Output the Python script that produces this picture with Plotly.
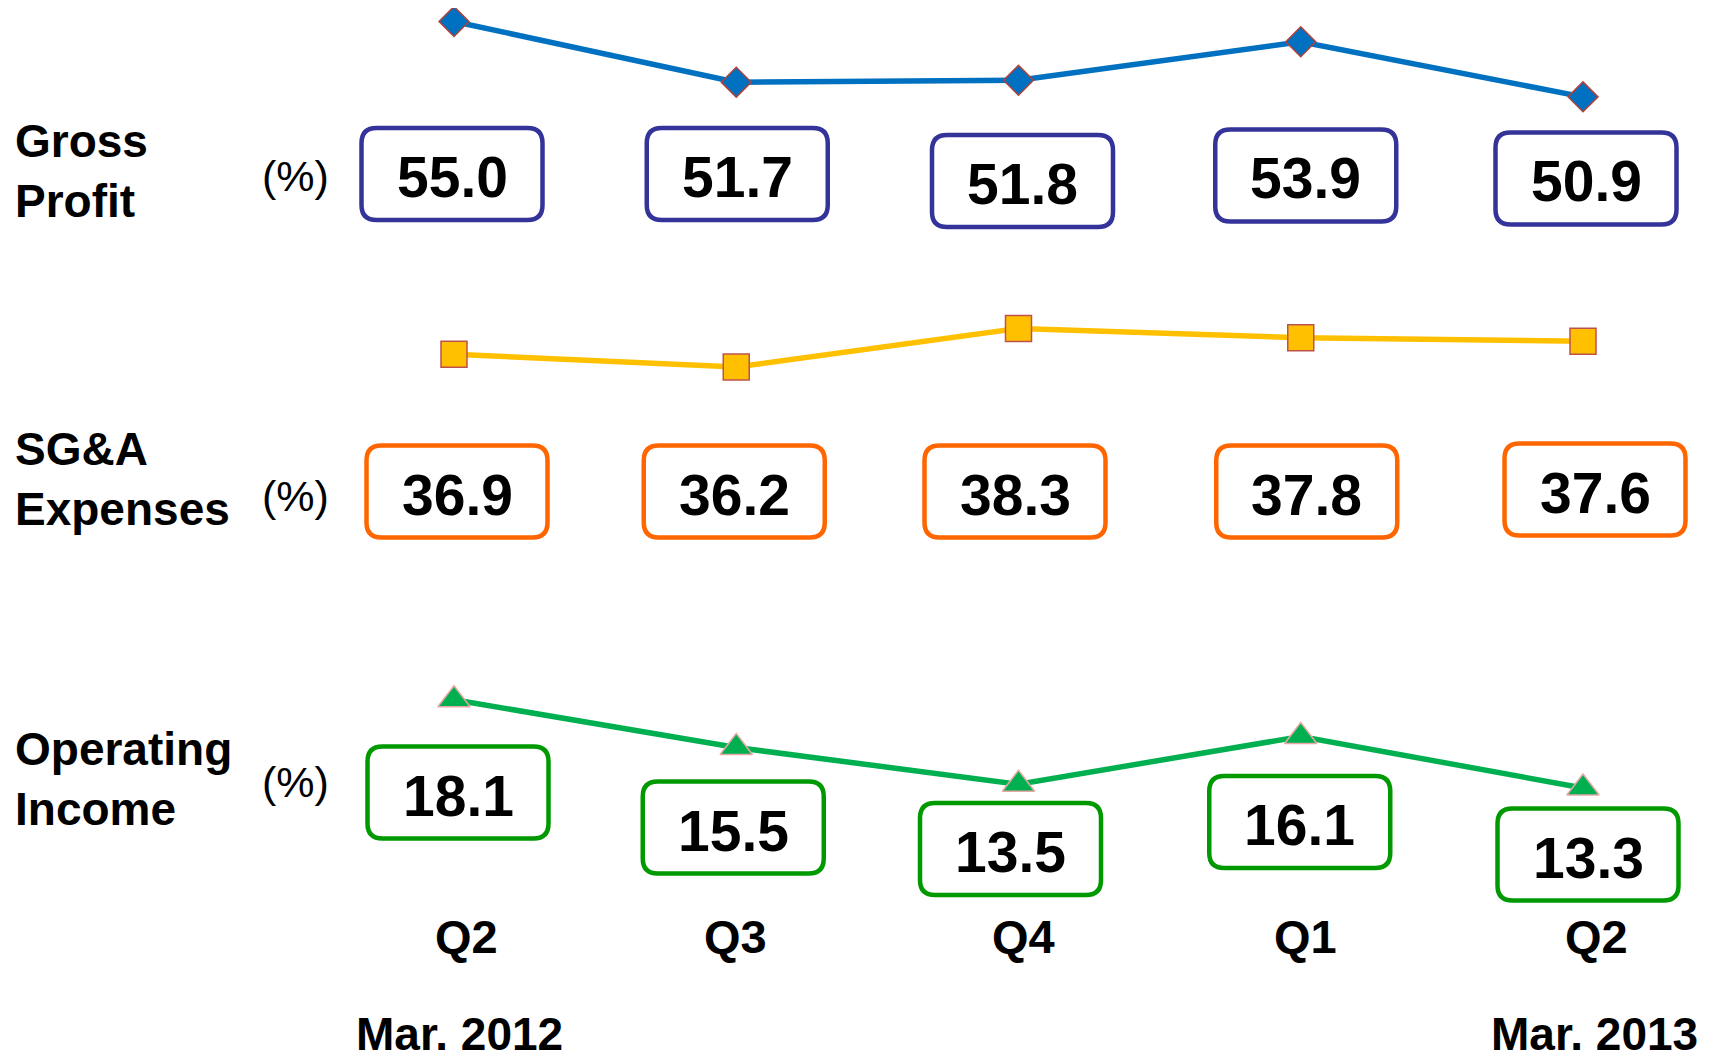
import plotly.graph_objects as go

# ---------------- data ----------------
quarters = ["Q2", "Q3", "Q4", "Q1", "Q2"]
fiscal_years = ["Mar. 2012", "Mar. 2013"]
gross_profit = [55.0, 51.7, 51.8, 53.9, 50.9]
sga_expenses = [36.9, 36.2, 38.3, 37.8, 37.6]
operating_income = [18.1, 15.5, 13.5, 16.1, 13.3]
metric_names = ["Gross<br>Profit", "SG&A<br>Expenses", "Operating<br>Income"]
unit_label = "(%)"

# ---------------- layout geometry (pixels, page body has an 8px margin) ----------------
OFF = 8
W, H = 1720 - OFF, 1062 - OFF
PLOT_BOTTOM = 900 - OFF
X_FIRST = 454.0 - OFF
X_STEP = 282.25
Y_PER_UNIT = 18.38
Y_REF_VAL, Y_REF_PX = 55.0, 21.5 - OFF

x0 = -X_FIRST / X_STEP
x1 = x0 + W / X_STEP
ymax = Y_REF_VAL + Y_REF_PX / Y_PER_UNIT
ymin = ymax - PLOT_BOTTOM / Y_PER_UNIT

FONT = "Liberation Sans, Arial, sans-serif"

series = [
    dict(vals=gross_profit, line="#0070C0", fill="#0070C0", edge="#B0423A",
         symbol="diamond", msize=23, box="#333399",
         box_y=[174, 174, 181, 175.5, 178.5], box_dx=[-2, 1, 4, 5, 3],
         name_y=171, unit_y=176),
    dict(vals=sga_expenses, line="#FFC000", fill="#FFC000", edge="#C0504D",
         symbol="square", msize=26, box="#FF6600",
         box_y=[491.5, 491.5, 491.5, 491.5, 489.5], box_dx=[3, -2, -3.5, 6, 12],
         name_y=479, unit_y=496),
    dict(vals=operating_income, line="#00B050", fill="#00B050", edge="#E6A7A5",
         symbol="triangle-up", msize=28, box="#009900",
         box_y=[792.5, 827.5, 849, 822, 854.5], box_dx=[4, -3, -8, -1, 5],
         name_y=779, unit_y=782),
]
quarter_dx = [12, -1, 5, 5, 13]

fig = go.Figure()
xs = list(range(len(quarters)))

for s in series:
    fig.add_trace(go.Scatter(
        x=xs, y=s["vals"], mode="lines+markers",
        line=dict(color=s["line"], width=5.5),
        marker=dict(symbol=s["symbol"], size=s["msize"], color=s["fill"],
                    line=dict(color=s["edge"], width=1.5)),
        cliponaxis=False, showlegend=False, hoverinfo="skip",
    ))

hw, hh, r = 90.5, 46.0, 15.0
box_path = (f"M {-hw + r},{-hh} L {hw - r},{-hh} Q {hw},{-hh} {hw},{-hh + r} "
            f"L {hw},{hh - r} Q {hw},{hh} {hw - r},{hh} L {-hw + r},{hh} "
            f"Q {-hw},{hh} {-hw},{hh - r} L {-hw},{-hh + r} Q {-hw},{-hh} {-hw + r},{-hh} Z")

shapes = []
annotations = []
for s in series:
    for i, v in enumerate(s["vals"]):
        xa = i + s["box_dx"][i] / X_STEP
        ya = 1 - (s["box_y"][i] - OFF) / H
        shapes.append(dict(type="path", path=box_path, xref="x", yref="paper",
                           xsizemode="pixel", ysizemode="pixel",
                           xanchor=xa, yanchor=ya,
                           line=dict(color=s["box"], width=4.5),
                           fillcolor="white", layer="above"))
        annotations.append(dict(x=xa, y=1 - (s["box_y"][i] + 3 - OFF) / H, xref="x", yref="paper",
                                text=f"{v:.1f}", showarrow=False,
                                xanchor="center", yanchor="middle",
                                font=dict(family=FONT, size=57, color="black", weight="bold")))

for s, nm in zip(series, metric_names):
    annotations.append(dict(x=(13 - OFF) / W, y=1 - (s["name_y"] - OFF) / H, xref="paper", yref="paper",
                            text=nm, showarrow=False, xanchor="left", yanchor="middle",
                            align="left",
                            font=dict(family=FONT, size=46, color="black", weight="bold")))
    annotations.append(dict(x=(295 - OFF) / W, y=1 - (s["unit_y"] - OFF) / H, xref="paper", yref="paper",
                            text=unit_label, showarrow=False, xanchor="center", yanchor="middle",
                            font=dict(family=FONT, size=43, color="black")))

for i, q in enumerate(quarters):
    annotations.append(dict(x=i + quarter_dx[i] / X_STEP, y=1 - (936 - OFF) / H, xref="x", yref="paper",
                            text=q, showarrow=False, xanchor="center", yanchor="middle",
                            font=dict(family=FONT, size=47, color="black", weight="bold")))

for xi, txt, dx in [(0, fiscal_years[0], 5), (len(quarters) - 1, fiscal_years[1], 11)]:
    annotations.append(dict(x=xi + dx / X_STEP, y=1 - (1034 - OFF) / H, xref="x", yref="paper",
                            text=txt, showarrow=False, xanchor="center", yanchor="middle",
                            font=dict(family=FONT, size=46, color="black", weight="bold")))

fig.update_layout(
    width=W, height=H,
    margin=dict(l=0, r=0, t=0, b=0),
    paper_bgcolor="white", plot_bgcolor="white",
    xaxis=dict(range=[x0, x1], tickvals=xs, showticklabels=False,
               showgrid=False, zeroline=False, showline=False, ticks="",
               fixedrange=True),
    yaxis=dict(range=[ymin, ymax], domain=[1 - PLOT_BOTTOM / H, 1],
               visible=False, fixedrange=True),
    shapes=shapes,
    annotations=annotations,
)

fig.write_html("out.html")
